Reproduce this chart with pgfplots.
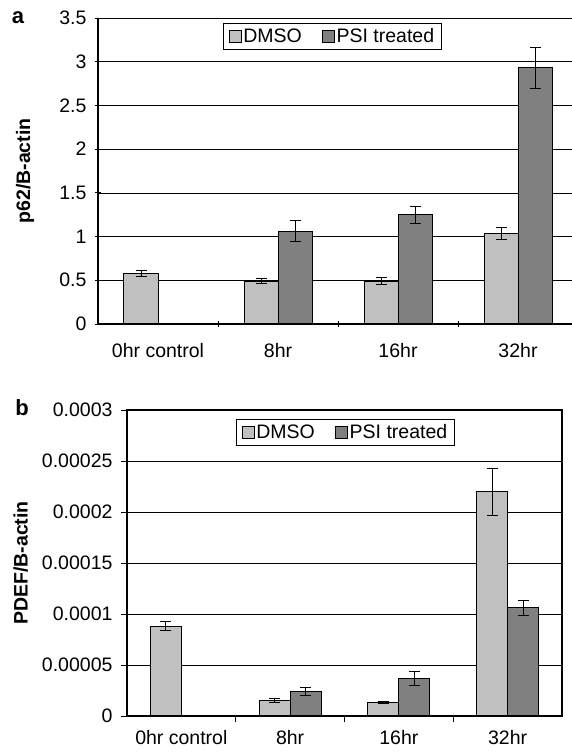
\documentclass[border=0pt]{standalone}
\usepackage{fontspec}
\setmainfont{Liberation Sans}
\usepackage{pgfplots}
\pgfplotsset{compat=1.18}
\definecolor{dmso}{RGB}{192,192,192}
\definecolor{psi}{RGB}{128,128,128}

\pgfplotsset{
  excelbar/.style={
    scale only axis, ybar=0pt, xmin=-0.5, ymin=0,
    xtick={0,1,2,3}, xticklabels={0hr control,8hr,16hr,32hr},
    major x tick style={draw=none},
    minor xtick={0.5,1.5,2.5}, minor tick length=6pt, major tick length=6pt,
    tick align=outside, xtick pos=bottom, ytick pos=left,
    ymajorgrids, grid style={black, line width=0.7pt},
    axis line style={-, black, line width=1.3pt},
    tick style={black, line width=0.9pt},
    tick label style={font=\fontsize{19.5}{22}\selectfont},
    /pgf/number format/assume math mode=true,
    yticklabel style={xshift=-5pt},
    legend style={draw=black, line width=0.8pt, legend columns=2, anchor=north west,
      font=\fontsize{19.5}{22}\selectfont, inner xsep=5pt, inner ysep=3pt,
      nodes={inner xsep=2pt},
      /tikz/every even column/.append style={column sep=18pt}},
    legend image code/.code={\draw[#1, line width=0.8pt] (0pt,-6pt) rectangle (12pt,6pt);},
    ylabel style={font=\fontsize{19.5}{22}\selectfont\bfseries, rotate=0, anchor=center},
  },
  dmsobar/.style={fill=dmso, draw=black, line width=1pt,
    error bars/.cd, y dir=both, y explicit,
    error bar style={black, line width=0.8pt},
    error mark options={rotate=90, black, mark size=5.5pt, line width=0.8pt}},
  psibar/.style={fill=psi, draw=black, line width=1pt,
    error bars/.cd, y dir=both, y explicit,
    error bar style={black, line width=0.8pt},
    error mark options={rotate=90, black, mark size=5.5pt, line width=0.8pt}},
}

\begin{document}
\begin{tikzpicture}
\path[use as bounding box] (0pt,0pt) rectangle (572pt,753pt);

% panel a (right side cut off, no right frame)
\begin{axis}[excelbar,
  at={(98pt,429pt)}, anchor=south west, width=474pt, height=306pt,
  xmax=3.45, ymax=3.5, ytick={0,0.5,1,1.5,2,2.5,3,3.5},
  axis lines=left,
  every outer x axis line/.append style={-},
  every outer y axis line/.append style={-},
  bar width=34pt,
  xticklabel style={yshift=-13pt},
  ylabel={p62/B-actin}, ylabel style={at={(axis description cs:-0.154,0.5)}},
  legend style={at={(0.264,0.984)}},
]
\addplot[dmsobar] coordinates {(0,0.58) +- (0,0.03) (1,0.49) +- (0,0.03) (2,0.49) +- (0,0.04) (3,1.04) +- (0,0.07)};
\addplot[psibar] coordinates {(1,1.06) +- (0,0.12) (2,1.25) +- (0,0.10) (3,2.93) +- (0,0.23)};
\legend{DMSO, PSI treated}
\end{axis}
\node[font=\fontsize{22}{26}\selectfont\bfseries] at (18pt,735pt) {a};

% panel b
\begin{axis}[excelbar,
  at={(127pt,37pt)}, anchor=south west, width=435pt, height=306pt,
  xmax=3.5, ymax=0.0003, scaled y ticks=false,
  ytick={0,0.00005,0.0001,0.00015,0.0002,0.00025,0.0003},
  yticklabels={0,0.00005,0.0001,0.00015,0.0002,0.00025,0.0003},
  bar width=31pt,
  xticklabel style={yshift=-5pt},
  ylabel={PDEF/B-actin}, ylabel style={at={(axis description cs:-0.244,0.5)}},
  legend style={at={(0.251,0.971)}},
]
\addplot[dmsobar] coordinates {(0,0.000088) +- (0,0.0000045) (1,0.0000155) +- (0,0.000002) (2,0.0000137) +- (0,0.000001) (3,0.00022) +- (0,0.000023)};
\addplot[psibar] coordinates {(1,0.0000243) +- (0,0.000004) (2,0.0000370) +- (0,0.000007) (3,0.000106) +- (0,0.000007)};
\legend{DMSO, PSI treated}
\end{axis}
\node[font=\fontsize{22}{26}\selectfont\bfseries] at (22pt,345pt) {b};
\end{tikzpicture}
\end{document}
